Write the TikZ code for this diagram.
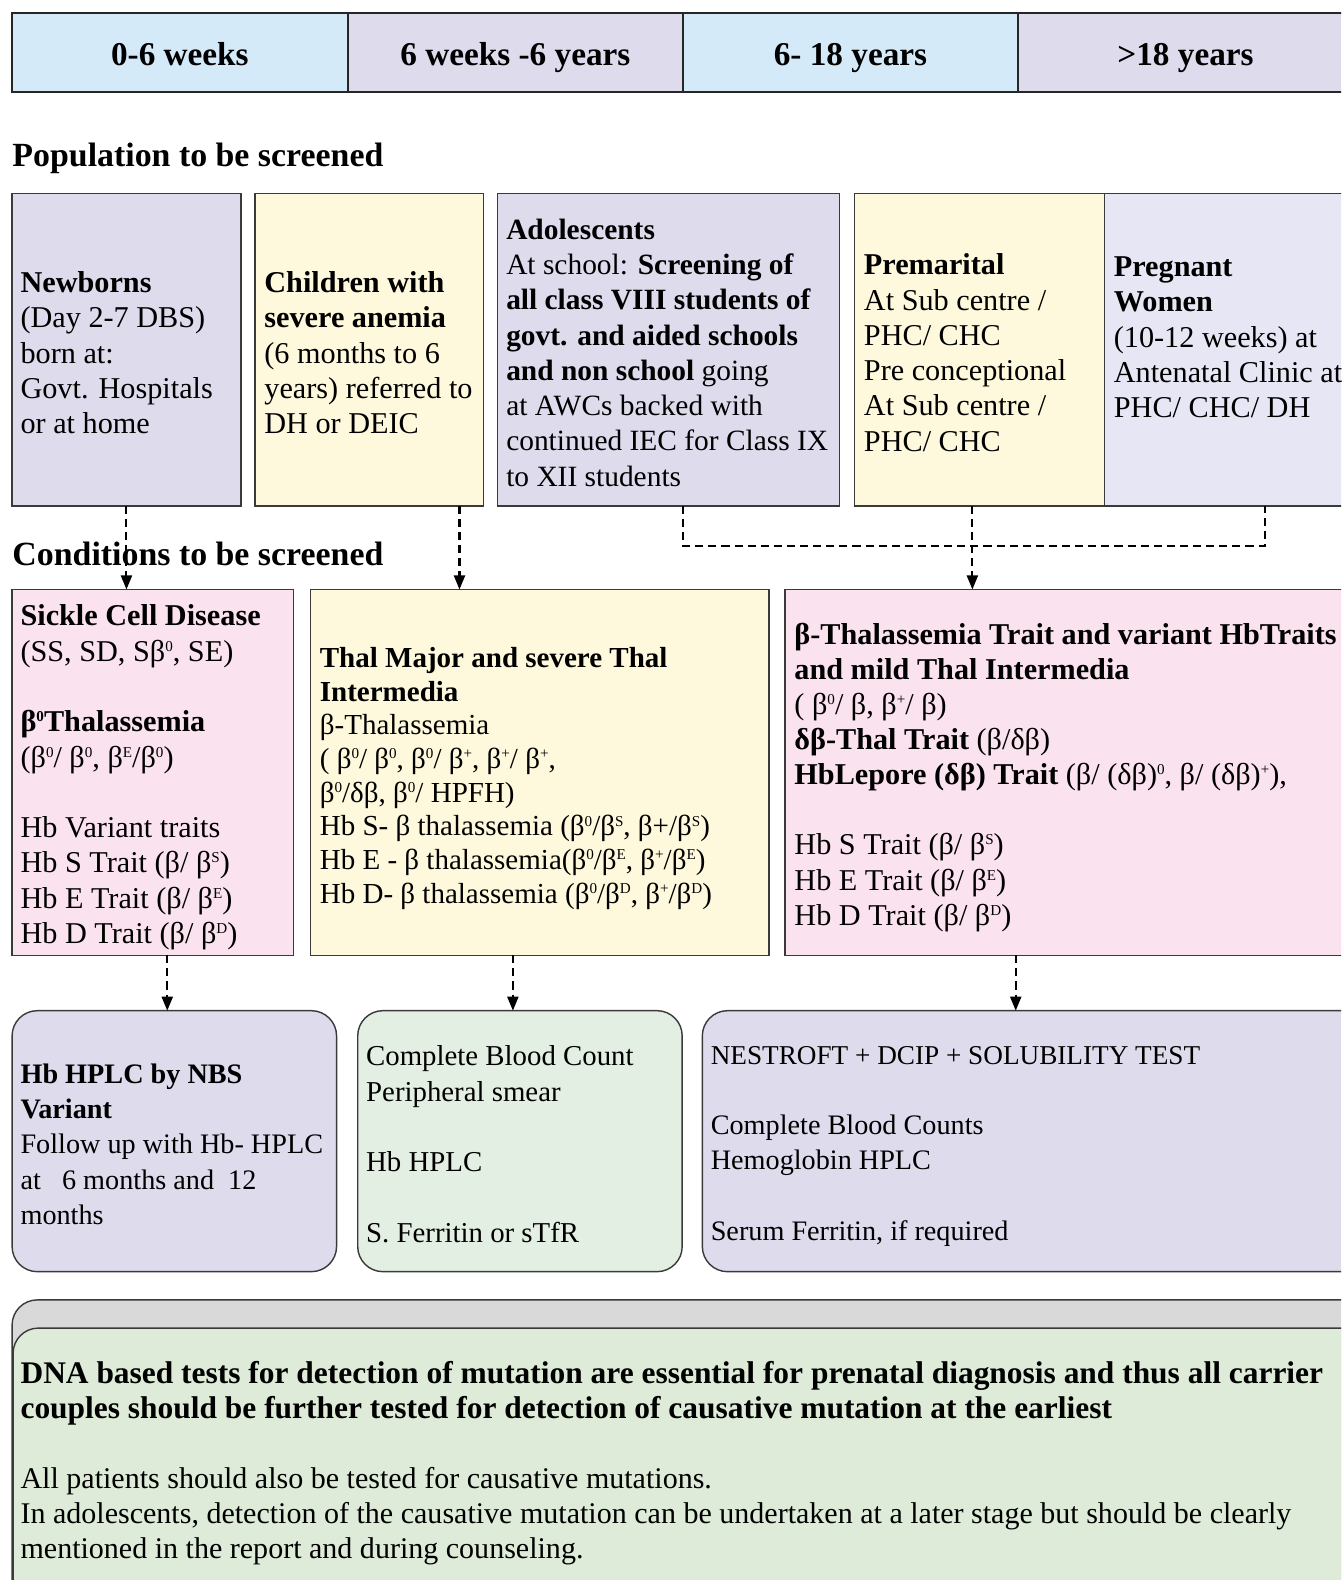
\documentclass[tikz,border=0pt]{standalone}
\usepackage{fontspec}
\setmainfont{Liberation Serif}
\usetikzlibrary{arrows.meta,calc}
\definecolor{hblue}{HTML}{D5EAF8}
\definecolor{lav}{HTML}{DEDBEC}
\definecolor{lavlt}{HTML}{E7E6F4}
\definecolor{yel}{HTML}{FEF9DC}
\definecolor{pinkc}{HTML}{FBE2EF}
\definecolor{grn}{HTML}{E3EFE2}
\definecolor{grnb}{HTML}{DDEBD8}
\definecolor{gry}{HTML}{D9D9D9}
\definecolor{edgec}{HTML}{3A3A3A}
\newcommand\supx[1]{\raisebox{0.33em}{\fontsize{7.5}{8}\selectfont #1}}
\newcommand\mybox[7]{\node[#6, anchor=north west, minimum width={(#4-#2)*0.5pt}, minimum height={(#5-#3)*0.5pt}] (#1) at (#2,#3) {#7};}
\tikzset{
 boxbase/.style={draw=edgec, line width=0.7pt, inner sep=0pt, outer sep=0pt},
 hcell/.style={boxbase, line width=1pt, draw=black!85, text height=13pt, text depth=0pt, font=\fontsize{16.5}{19}\selectfont\bfseries},
 sq/.style={boxbase},
 rnd/.style={boxbase, rounded corners=12.5pt},
 txt/.style={inner sep=0pt, align=left, anchor=west, yshift=-1.5pt, font=\fontsize{15}{17.5}\selectfont},
 heading/.style={inner sep=0pt, anchor=west, font=\fontsize{16.8}{19}\selectfont\bfseries},
 dasharrow/.style={line width=1pt, dash pattern=on 4pt off 2.5pt, -{Triangle[length=7pt,width=5.5pt]}},
 dashline/.style={line width=1pt, dash pattern=on 4pt off 2.5pt},
}
\begin{document}
\begin{tikzpicture}[x=0.5pt,y=-0.5pt]
\useasboundingbox (0,0) rectangle (1331,1568);
\clip (0,0) rectangle (1331,1568);
\fill[white] (0,0) rectangle (1331,1568);
% header
\mybox{h1}{12}{13}{345}{91}{hcell,fill=hblue}{0-6 weeks}
\mybox{h2}{345}{13}{678}{91}{hcell,fill=lav}{6 weeks -6 years}
\mybox{h3}{678}{13}{1010}{91}{hcell,fill=hblue}{6- 18 years}
\mybox{h4}{1010}{13}{1343}{91}{hcell,fill=lav}{>18 years}
% population
\node[heading] (pophead) at (12,157) {Population to be screened};
\mybox{newborn}{12}{192}{239}{502}{sq,fill=lav}{}
\mybox{children}{253}{192}{480}{502}{sq,fill=yel}{}
\mybox{adol}{494}{192}{833}{502}{sq,fill=lav}{}
\mybox{premar}{848}{192}{1096}{502}{sq,fill=yel}{}
\mybox{preg}{1096}{192}{1345}{502}{sq,fill=lavlt}{}
\node[txt] (nbtxt) at ([xshift=4pt]newborn.west) {\textbf{Newborns}\\(Day 2-7 DBS)\\born at:\\Govt. Hospitals\\or at home};
\node[txt] (chtxt) at ([xshift=4.5pt]children.west) {\textbf{Children with}\\\textbf{severe anemia}\\(6 months to 6\\years) referred to\\DH or DEIC};
\node[txt, font=\fontsize{14.6}{17.5}\selectfont] (adtxt) at ([xshift=4pt]adol.west) {\textbf{Adolescents}\\At school: \textbf{Screening of}\\\textbf{all class VIII students of}\\\textbf{govt. and aided schools}\\\textbf{and non school} going\\at AWCs backed with\\continued IEC for Class IX\\to XII students};
\node[txt] (prtxt) at ([xshift=4.5pt]premar.west) {\textbf{Premarital}\\At Sub centre /\\PHC/ CHC\\Pre conceptional\\At Sub centre /\\PHC/ CHC};
\node[txt, anchor=north west, yshift=0pt] (pgtxt) at ([xshift=4.5pt]preg.west |- prtxt.north) {\textbf{Pregnant}\\\textbf{Women}\\(10-12 weeks) at\\Antenatal Clinic at\\PHC/ CHC/ DH};
% conditions
\node[heading] (condhead) at (12,550) {Conditions to be screened};
\mybox{sickle}{12}{585}{291}{948}{sq,fill=pinkc}{}
\mybox{thal}{308}{585}{763}{948}{sq,fill=yel}{}
\mybox{trait}{779}{585}{1350}{948}{sq,fill=pinkc}{}
\node[txt, yshift=-1pt] (sctxt) at ([xshift=4pt]sickle.west) {\textbf{Sickle Cell Disease}\\(SS, SD, Sβ\supx{0}, SE)\\[17.5pt]\textbf{β\supx{0}Thalassemia}\\(β\supx{0}/ β\supx{0}, β\supx{E}/β\supx{0})\\[17.5pt]Hb Variant traits\\Hb S Trait (β/ β\supx{S})\\Hb E Trait (β/ β\supx{E})\\Hb D Trait (β/ β\supx{D})};
\node[txt, yshift=-1.5pt, font=\fontsize{14.4}{16.7}\selectfont] (thtxt) at ([xshift=4.5pt]thal.west) {\textbf{Thal Major and severe Thal}\\\textbf{Intermedia}\\β-Thalassemia\\( β\supx{0}/ β\supx{0}, β\supx{0}/ β\supx{+}, β\supx{+}/ β\supx{+},\\β\supx{0}/δβ, β\supx{0}/ HPFH)\\Hb S- β thalassemia (β\supx{0}/β\supx{S}, β+/β\supx{S})\\Hb E - β thalassemia(β\supx{0}/β\supx{E}, β\supx{+}/β\supx{E})\\Hb D- β thalassemia (β\supx{0}/β\supx{D}, β\supx{+}/β\supx{D})};
\node[txt, yshift=-1pt, font=\fontsize{15}{17.4}\selectfont] (trtxt) at ([xshift=4.5pt]trait.west) {\textbf{β-Thalassemia Trait and variant HbTraits}\\\textbf{and mild Thal Intermedia}\\( β\supx{0}/ β, β\supx{+}/ β)\\\textbf{δβ-Thal Trait} (β/δβ)\\\textbf{HbLepore (δβ) Trait} (β/ (δβ)\supx{0}, β/ (δβ)\supx{+}),\\[17.4pt]Hb S Trait (β/ β\supx{S})\\Hb E Trait (β/ β\supx{E})\\Hb D Trait (β/ β\supx{D})};
% tests
\mybox{hplc}{12}{1003}{334}{1262}{rnd,fill=lav}{}
\mybox{cbc}{355}{1003}{677}{1262}{rnd,fill=grn}{}
\mybox{nest}{697}{1003}{1360}{1262}{rnd,fill=lav}{}
\node[txt, font=\fontsize{14}{17.5}\selectfont] (hptxt) at ([xshift=4pt]hplc.west) {\textbf{Hb HPLC by NBS}\\\textbf{Variant}\\Follow up with Hb- HPLC\\at\ \ \ 6 months and\ \ 12\\months};
\node[txt, font=\fontsize{14.3}{17.5}\selectfont] (cbtxt) at ([xshift=4pt]cbc.west) {Complete Blood Count\\Peripheral smear\\[17.5pt]Hb HPLC\\[17.5pt]S. Ferritin or sTfR};
\node[txt, yshift=-1pt, font=\fontsize{14}{17.5}\selectfont] (nstxt) at ([xshift=4pt]nest.west) {{\fontsize{13.5}{17.5}\selectfont NESTROFT + DCIP + SOLUBILITY TEST}\\[17.5pt]Complete Blood Counts\\Hemoglobin HPLC\\[17.5pt]Serum Ferritin, if required};
% bottom
\mybox{dnaback}{12}{1290}{1360}{1620}{rnd,fill=gry}{}
\mybox{dna}{13}{1318}{1360}{1620}{rnd,fill=grnb}{}
\node[txt, yshift=0pt, font=\fontsize{14.9}{17.4}\selectfont] (dnatxt) at ($(dna.north west)+(3.5pt,-65.5pt)$) {{\fontsize{15.6}{17.4}\selectfont\bfseries DNA based tests for detection of mutation are essential for prenatal diagnosis and thus all carrier}\\{\fontsize{15.6}{17.4}\selectfont\bfseries couples should be further tested for detection of causative mutation at the earliest}\\[17.4pt]All patients should also be tested for causative mutations.\\In adolescents, detection of the causative mutation can be undertaken at a later stage but should be clearly\\mentioned in the report and during counseling.};
% connectors
\coordinate (brk) at (0,542);
\draw[dasharrow] (newborn.south) -- (newborn.south |- sickle.north);
\draw[dasharrow] ([xshift=44.75pt]children.south) -- ([xshift=44.75pt]children.south |- thal.north);
\draw[dashline] ([xshift=7.25pt]adol.south) -- ([xshift=7.25pt]adol.south |- brk) -- ([xshift=17.25pt]preg.south |- brk) -- ([xshift=17.25pt]preg.south);
\draw[dasharrow] ([xshift=-3.5pt]premar.south) -- ([xshift=-3.5pt]premar.south |- trait.north);
\draw[dasharrow] ([xshift=7.25pt]sickle.south) -- ([xshift=7.25pt]sickle.south |- hplc.north);
\draw[dasharrow] ([xshift=-13.25pt]thal.south) -- ([xshift=-13.25pt]thal.south |- cbc.north);
\draw[dasharrow] ([xshift=-28.25pt]trait.south) -- ([xshift=-28.25pt]trait.south |- nest.north);
\end{tikzpicture}
\end{document}
